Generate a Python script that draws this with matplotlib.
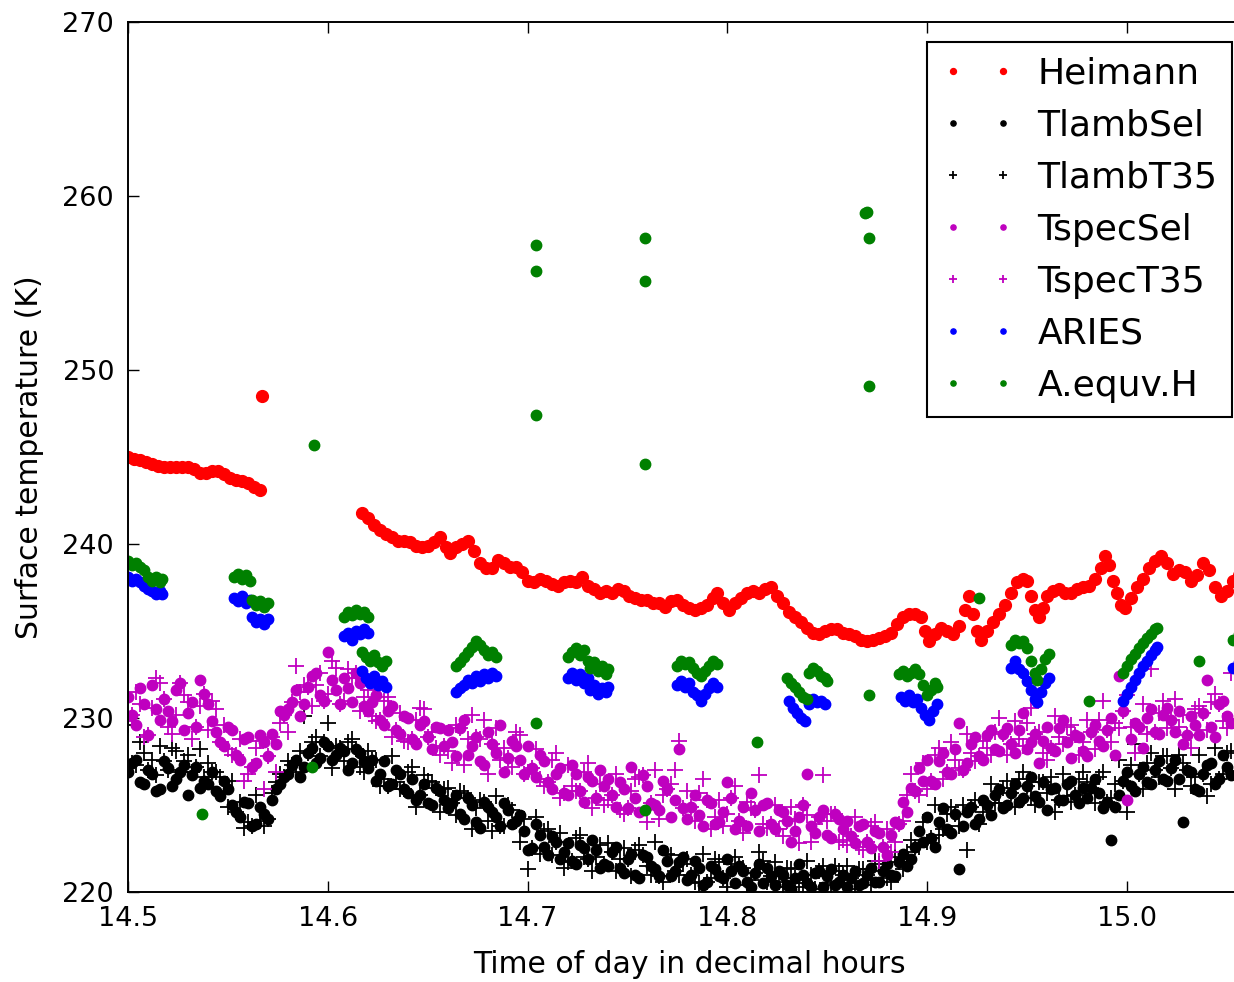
import matplotlib
matplotlib.use('Agg')
import matplotlib.pyplot as plt

# Heimann radiometer (continuous record, with one stray point)
heim_t = [14.500, 14.503, 14.506, 14.509, 14.512, 14.515, 14.518, 14.521, 14.524, 14.527,
          14.530, 14.533, 14.536, 14.539, 14.542, 14.545, 14.548, 14.551, 14.554, 14.557,
          14.560, 14.563, 14.566, 14.567,
          14.617, 14.620, 14.623, 14.626, 14.629, 14.632, 14.635, 14.638, 14.641, 14.644,
          14.647, 14.650, 14.653, 14.656, 14.659, 14.661, 14.664, 14.667, 14.670, 14.673,
          14.676, 14.679, 14.682, 14.685, 14.688, 14.691, 14.694, 14.697, 14.700, 14.703,
          14.706, 14.709, 14.712, 14.715, 14.718, 14.721, 14.724, 14.727, 14.730, 14.733,
          14.736, 14.739, 14.742, 14.745, 14.748, 14.751, 14.754, 14.757, 14.760, 14.763,
          14.766, 14.769, 14.772, 14.775, 14.778, 14.781, 14.784, 14.787, 14.790, 14.793,
          14.795, 14.798, 14.801, 14.804, 14.807, 14.810, 14.813, 14.816, 14.819, 14.822,
          14.825, 14.828, 14.831, 14.834, 14.837, 14.840, 14.843, 14.846, 14.849, 14.852,
          14.855, 14.858, 14.861, 14.864, 14.867, 14.870, 14.873, 14.876, 14.879, 14.882,
          14.885, 14.888, 14.891, 14.894, 14.897, 14.899, 14.901, 14.904, 14.907, 14.910,
          14.913, 14.916, 14.919, 14.921, 14.923, 14.925, 14.927, 14.930, 14.933, 14.936,
          14.939, 14.942, 14.945, 14.948, 14.950, 14.952, 14.954, 14.956, 14.958, 14.960,
          14.963, 14.966, 14.969, 14.972, 14.975, 14.978, 14.981, 14.984, 14.987, 14.989,
          14.991, 14.993, 14.995, 14.997, 14.999, 15.002, 15.005, 15.008, 15.011, 15.014,
          15.017, 15.020, 15.023, 15.026, 15.029, 15.032, 15.035, 15.038, 15.041, 15.044,
          15.047, 15.050, 15.053, 15.056]
heim_T = [245.0, 244.9, 244.8, 244.7, 244.6, 244.5, 244.4, 244.4, 244.4, 244.4,
          244.4, 244.3, 244.1, 244.1, 244.2, 244.2, 244.0, 243.8, 243.7, 243.6,
          243.5, 243.3, 243.1, 248.5,
          241.8, 241.5, 241.1, 240.8, 240.6, 240.4, 240.2, 240.2, 240.1, 239.9,
          239.8, 239.9, 240.1, 240.4, 239.8, 239.5, 239.8, 240.0, 240.2, 239.6,
          238.9, 238.6, 238.6, 239.1, 238.9, 238.7, 238.7, 238.4, 237.9, 237.8,
          238.0, 237.9, 237.7, 237.6, 237.8, 237.9, 237.8, 238.1, 237.6, 237.4,
          237.2, 237.3, 237.2, 237.4, 237.3, 237.0, 236.9, 236.8, 236.8, 236.6,
          236.6, 236.4, 236.7, 236.8, 236.5, 236.3, 236.2, 236.3, 236.5, 236.9,
          237.2, 236.6, 236.2, 236.6, 236.9, 237.2, 237.3, 237.2, 237.4, 237.5,
          237.0, 236.6, 236.1, 235.8, 235.5, 235.2, 234.9, 234.8, 235.0, 235.1,
          235.1, 234.9, 234.8, 234.7, 234.5, 234.4, 234.5, 234.6, 234.7, 234.9,
          235.4, 235.8, 236.0, 236.0, 235.8, 235.0, 234.4, 234.8, 235.2, 235.0,
          234.8, 235.3, 236.2, 237.0, 236.0, 235.0, 234.5, 235.0, 235.5, 236.0,
          236.5, 237.2, 237.8, 238.0, 237.9, 237.0, 236.2, 235.8, 236.3, 237.0,
          237.3, 237.4, 237.2, 237.2, 237.4, 237.5, 237.6, 238.0, 238.6, 239.3,
          238.8, 237.9, 237.2, 236.5, 236.3, 236.9, 237.5, 238.0, 238.6, 239.0,
          239.3, 238.9, 238.3, 238.5, 238.4, 237.9, 238.2, 238.9, 238.5, 237.5,
          237.0, 237.3, 237.9, 238.2]

# sample times for the four Tlamb/Tspec retrievals (two interleaved scan sets)
obs_t = [14.500, 14.504, 14.508, 14.512, 14.516, 14.520, 14.524, 14.528, 14.532, 14.536,
         14.540, 14.544, 14.548, 14.552, 14.556, 14.560, 14.564, 14.568, 14.572, 14.576,
         14.580, 14.584, 14.588, 14.592, 14.596, 14.600, 14.604, 14.608, 14.612, 14.616,
         14.620, 14.624, 14.628, 14.632, 14.636, 14.640, 14.644, 14.648, 14.652, 14.656,
         14.660, 14.664, 14.668, 14.672, 14.676, 14.680, 14.684, 14.688, 14.692, 14.696,
         14.700, 14.704, 14.708, 14.712, 14.716, 14.720, 14.724, 14.728, 14.732, 14.736,
         14.740, 14.744, 14.748, 14.752, 14.756, 14.760, 14.764, 14.768, 14.772, 14.776,
         14.780, 14.784, 14.788, 14.792, 14.796, 14.800, 14.804, 14.808, 14.812, 14.816,
         14.820, 14.824, 14.828, 14.832, 14.836, 14.840, 14.844, 14.848, 14.852, 14.856,
         14.860, 14.864, 14.868, 14.872, 14.876, 14.880, 14.884, 14.888, 14.892, 14.896,
         14.900, 14.904, 14.908, 14.912, 14.916, 14.920, 14.924, 14.928, 14.932, 14.936,
         14.940, 14.944, 14.948, 14.952, 14.956, 14.960, 14.964, 14.968, 14.972, 14.976,
         14.980, 14.984, 14.988, 14.992, 14.996, 15.000, 15.004, 15.008, 15.012, 15.016,
         15.020, 15.024, 15.028, 15.032, 15.036, 15.040, 15.044, 15.048, 15.052]
obs_t_b = [14.502, 14.506, 14.510, 14.514, 14.518, 14.522, 14.526, 14.530, 14.534, 14.538,
           14.542, 14.546, 14.550, 14.554, 14.558, 14.562, 14.566, 14.570, 14.574, 14.578,
           14.582, 14.586, 14.590, 14.594, 14.598, 14.602, 14.606, 14.610, 14.614, 14.618,
           14.622, 14.626, 14.630, 14.634, 14.638, 14.642, 14.646, 14.650, 14.654, 14.658,
           14.662, 14.666, 14.670, 14.674, 14.678, 14.682, 14.686, 14.690, 14.694, 14.698,
           14.702, 14.706, 14.710, 14.714, 14.718, 14.722, 14.726, 14.730, 14.734, 14.738,
           14.742, 14.746, 14.750, 14.754, 14.758, 14.762, 14.766, 14.770, 14.774, 14.778,
           14.782, 14.786, 14.790, 14.794, 14.798, 14.802, 14.806, 14.810, 14.814, 14.818,
           14.822, 14.826, 14.830, 14.834, 14.838, 14.842, 14.846, 14.850, 14.854, 14.858,
           14.862, 14.866, 14.870, 14.874, 14.878, 14.882, 14.886, 14.890, 14.894, 14.898,
           14.902, 14.906, 14.910, 14.914, 14.918, 14.922, 14.926, 14.930, 14.934, 14.938,
           14.942, 14.946, 14.950, 14.954, 14.958, 14.962, 14.966, 14.970, 14.974, 14.978,
           14.982, 14.986, 14.990, 14.994, 14.998, 15.002, 15.006, 15.010, 15.014, 15.018,
           15.022, 15.026, 15.030, 15.034, 15.038, 15.042, 15.046, 15.050]

tlamb_sel = [226.9, 227.6, 226.2, 226.8, 225.9, 227.1, 226.5, 227.3, 226.7, 226.0,
             226.2, 225.8, 226.4, 225.0, 224.3, 225.1, 223.9, 224.5, 225.3, 226.2,
             226.8, 227.6, 227.2, 228.3, 227.7, 228.4, 227.9, 228.1, 227.4, 228.0,
             227.1, 226.4, 227.5, 226.2, 226.8, 225.7, 225.3, 226.2, 225.0, 225.8,
             224.8, 225.6, 224.2, 225.0, 223.7, 224.9, 224.3, 225.1, 223.9, 224.4,
             222.4, 223.9, 222.6, 223.2, 221.9, 222.8, 221.6, 222.5, 223.0, 221.4,
             221.5, 222.6, 221.1, 222.2, 220.8, 222.0, 221.3, 222.4, 220.9, 221.7,
             220.7, 221.8, 220.4, 221.5, 220.9, 221.9, 220.5, 221.2, 220.3, 221.6,
             221.4, 220.4, 221.0, 220.2, 221.6, 220.5, 221.1, 220.3, 221.3, 220.6,
             220.3, 221.2, 220.5, 221.4, 220.6, 221.6, 220.9, 222.2, 221.9, 223.5,
             224.3, 222.6, 224.8, 223.4, 221.3, 224.6, 223.9, 225.3, 224.4, 225.9,
             225.0, 226.2, 225.4, 226.6, 225.2, 224.7, 226.0, 225.3, 226.4, 225.1,
             225.4, 226.5, 224.8, 223.0, 225.6, 226.9, 225.8, 227.2, 226.2, 227.5,
             226.4, 227.6, 224.0, 226.9, 225.8, 227.3, 226.2, 227.9, 226.7]
tlamb_sel_b = [227.4, 226.3, 227.0, 225.8, 227.5, 226.1, 226.9, 225.6, 227.2, 226.4,
               226.9, 225.5, 225.9, 224.6, 225.2, 223.8, 224.9, 224.2, 225.9, 226.6,
               227.3, 226.6, 228.0, 227.4, 228.6, 227.6, 228.3, 227.0, 228.2, 227.5,
               227.6, 226.8, 226.1, 227.0, 225.9, 226.5, 225.6, 225.1, 226.0, 225.3,
               225.1, 224.5, 225.4, 224.0, 225.2, 224.6, 223.8, 224.7, 224.1, 223.5,
               222.5, 223.3, 222.1, 222.9, 222.3, 221.8, 222.7, 221.9, 222.4, 221.6,
               222.3, 221.4, 221.9, 221.0, 222.1, 221.5, 220.9, 221.8, 221.2, 222.0,
               221.0, 221.4, 220.6, 221.3, 220.8, 221.2, 221.5, 220.6, 221.1, 220.5,
               220.9, 221.2, 220.4, 220.8, 221.0, 220.3, 221.2, 220.9, 220.4, 221.0,
               220.8, 220.4, 221.0, 220.6, 221.2, 221.0, 221.7, 221.5, 222.6, 222.9,
               223.1, 224.0, 223.6, 224.5, 223.8, 224.9, 224.2, 225.0, 225.6, 224.8,
               225.7, 225.2, 226.1, 225.5, 226.3, 225.9, 225.3, 226.2, 225.6, 226.0,
               226.0, 225.7, 225.2, 224.9, 226.4, 226.1, 226.8, 226.3, 227.0, 226.5,
               227.1, 226.5, 227.0, 225.9, 226.8, 227.4, 226.5, 227.2]
tlamb_t35 = [229.6, 227.3, 228.0, 227.6, 228.4, 227.0, 228.1, 227.5, 226.9, 228.2,
             227.4, 226.9, 225.8, 226.4, 225.2, 224.0, 225.6, 223.8, 225.7, 226.8,
             227.5, 226.9, 230.1, 228.6, 227.8, 229.7, 228.4, 227.5, 228.8, 227.2,
             228.1, 227.6, 226.5, 227.8, 225.9, 226.9, 224.9, 226.7, 226.3, 224.6,
             226.0, 224.4, 225.7, 223.6, 225.3, 224.1, 225.5, 223.8, 224.7, 222.9,
             221.3, 224.3, 223.5, 222.1, 223.4, 221.7, 223.1, 222.0, 221.2, 222.7,
             222.8, 221.2, 222.5, 220.9, 222.7, 221.5, 222.9, 220.6, 222.1, 221.0,
             221.9, 220.6, 222.2, 220.8, 221.7, 220.3, 222.0, 221.4, 220.7, 222.3,
             220.6, 221.7, 220.3, 221.3, 220.5, 221.8, 220.2, 221.5, 220.4, 221.2,
             221.5, 220.2, 221.3, 220.4, 221.6, 220.8, 222.0, 221.3, 223.0, 222.6,
             222.9, 225.0, 223.6, 224.9, 223.8, 222.4, 225.3, 224.6, 226.2, 225.1,
             226.4, 224.9, 226.9, 225.4, 226.3, 225.7, 224.6, 226.8, 225.2, 226.5,
             226.3, 225.1, 226.9, 225.4, 227.6, 224.6, 228.5, 225.9, 228.0, 226.6,
             227.8, 225.9, 227.4, 226.1, 227.9, 225.5, 228.3, 226.8, 228.1]
tlamb_t35_b = [227.4, 228.6, 227.0, 226.7, 227.5, 228.3, 226.9, 227.9, 227.2, 226.6,
               226.9, 226.6, 224.9, 224.6, 223.7, 223.8, 224.1, 224.2, 226.3, 226.6,
               227.3, 228.1, 228.0, 228.9, 228.6, 227.1, 228.3, 228.6, 228.2, 226.9,
               227.6, 226.1, 226.1, 226.3, 225.9, 227.2, 225.6, 226.4, 226.0, 225.9,
               225.1, 225.8, 225.4, 224.8, 225.2, 223.5, 223.8, 225.0, 224.1, 224.2,
               222.5, 222.2, 223.6, 222.9, 221.4, 221.8, 223.3, 221.9, 222.0, 221.6,
               222.3, 221.9, 221.9, 222.4, 222.1, 221.0, 220.9, 222.2, 221.2, 221.6,
               221.0, 220.5, 220.6, 221.9, 220.8, 221.6, 221.5, 220.4, 221.1, 221.8,
               220.9, 220.6, 221.4, 220.8, 220.3, 221.0, 221.2, 220.5, 221.5, 221.0,
               220.8, 221.3, 221.0, 221.8, 221.2, 220.6, 221.7, 222.3, 222.6, 224.0,
               223.1, 223.3, 224.5, 224.5, 225.0, 224.9, 223.9, 225.0, 225.1, 226.0,
               225.7, 226.5, 226.1, 225.0, 226.3, 226.6, 225.3, 225.5, 225.6, 226.9,
               226.0, 226.6, 225.2, 226.2, 226.4, 227.3, 226.8, 227.4, 227.0, 227.8,
               227.1, 227.9, 227.0, 226.6, 226.8, 226.2, 226.5, 228.0]
tspec_sel = [231.2, 229.6, 230.8, 231.9, 229.9, 230.4, 231.6, 229.3, 230.9, 232.2,
             230.8, 229.2, 228.4, 229.3, 227.6, 228.9, 227.4, 228.6, 229.1, 230.4,
             230.5, 231.6, 230.8, 232.4, 231.3, 233.8, 231.6, 232.3, 230.9, 232.0,
             230.4, 231.3, 229.6, 230.7, 229.1, 230.0, 228.5, 229.8, 228.2, 229.4,
             229.3, 227.8, 229.9, 228.4, 227.5, 229.2, 228.0, 226.9, 228.7, 227.6,
             228.4, 226.6, 227.5, 225.9, 227.1, 225.6, 226.8, 225.2, 226.4, 227.0,
             226.5, 224.9, 225.9, 227.2, 224.6, 226.1, 225.0, 226.4, 224.3, 228.2,
             224.2, 225.6, 223.8, 225.1, 224.0, 226.3, 223.6, 224.9, 225.7, 223.5,
             225.1, 223.6, 224.6, 222.9, 224.3, 226.8, 223.4, 224.7, 223.1, 224.2,
             224.1, 222.8, 223.9, 222.5, 223.4, 222.1, 224.0, 225.2, 226.0, 227.1,
             227.6, 226.2, 228.0, 226.8, 229.7, 227.4, 228.9, 227.6, 229.3, 228.1,
             229.4, 228.0, 230.3, 228.6, 227.4, 229.5, 228.1, 229.9, 227.7, 228.9,
             227.8, 229.6, 228.4, 230.0, 232.4, 225.3, 229.7, 228.3, 230.5, 229.1,
             230.6, 229.2, 228.5, 230.1, 229.0, 232.2, 228.9, 231.0, 229.7]
tspec_sel_b = [230.2, 231.7, 229.0, 230.5, 231.1, 229.8, 232.0, 230.3, 229.5, 231.4,
               229.8, 228.6, 229.5, 227.9, 228.8, 227.2, 229.0, 227.8, 228.5, 230.2,
               230.9, 230.1, 231.8, 232.6, 231.0, 232.2, 230.8, 231.7, 232.6, 230.7,
               230.9, 229.9, 230.4, 229.3, 230.1, 228.8, 229.6, 228.9, 229.5, 228.4,
               228.6, 229.4, 227.9, 228.9, 227.3, 228.5, 229.6, 227.7, 228.4, 226.8,
               227.1, 227.9, 226.3, 226.8, 225.7, 227.3, 225.8, 226.6, 225.4, 226.1,
               225.6, 226.3, 224.8, 225.4, 226.7, 225.1, 224.7, 225.9, 225.3, 224.8,
               224.9, 224.4, 225.3, 223.9, 224.6, 225.4, 224.1, 223.8, 224.7, 225.0,
               223.9, 224.7, 224.1, 223.5, 225.0, 223.8, 224.3, 223.3, 224.5, 223.6,
               223.2, 223.8, 222.9, 223.5, 222.6, 223.3, 223.9, 224.6, 225.8, 226.4,
               226.4, 227.5, 226.9, 228.2, 227.0, 228.5, 227.8, 229.0, 228.2, 229.1,
               228.5, 229.3, 228.2, 229.1, 228.7, 228.3, 229.4, 228.6, 229.0, 228.1,
               229.2, 228.7, 229.3, 227.9, 230.4, 228.8, 229.5, 230.0, 229.2, 230.2,
               229.9, 230.4, 229.0, 229.6, 230.3, 229.5, 230.8, 230.1]
tspec_t35 = [229.8, 231.5, 228.9, 230.6, 232.0, 229.5, 230.2, 231.3, 228.8, 230.7,
             229.3, 230.5, 229.6, 227.9, 228.8, 226.8, 228.3, 225.9, 228.9, 229.7,
             229.2, 233.0, 231.9, 230.7, 232.6, 231.4, 232.9, 231.0, 232.3, 230.4,
             231.6, 229.8, 231.0, 228.9, 230.3, 228.6, 229.9, 230.5, 229.2, 227.9,
             228.1, 229.6, 227.3, 230.2, 228.8, 226.8, 229.4, 228.3, 227.2, 229.0,
             226.9, 228.2, 226.1, 227.6, 225.4, 227.3, 225.8, 226.9, 224.8, 226.2,
             225.3, 226.8, 224.5, 225.8, 226.6, 224.0, 227.0, 225.6, 226.2, 228.7,
             225.8, 224.1, 226.5, 223.6, 225.3, 224.5, 226.1, 223.4, 224.8, 226.7,
             223.7, 225.0, 223.2, 224.9, 222.8, 224.4, 223.9, 226.7, 224.5, 222.9,
             222.7, 224.3, 222.4, 223.8, 221.8, 223.6, 222.9, 224.1, 226.8, 225.6,
             225.9, 227.9, 226.5, 228.6, 227.1, 229.1, 227.5, 228.7, 227.9, 230.0,
             227.9, 229.8, 228.4, 230.6, 229.2, 227.6, 230.1, 228.5, 229.6, 227.9,
             229.9, 228.2, 231.0, 228.6, 229.4, 231.3, 228.0, 230.8, 232.8, 230.3,
             229.4, 231.1, 230.2, 228.3, 230.7, 229.3, 231.4, 229.8, 232.6]
tspec_t35_b = [230.2, 230.8, 229.0, 232.3, 231.1, 229.1, 232.0, 230.9, 229.5, 231.4,
               231.0, 228.6, 228.2, 227.9, 226.4, 227.2, 228.7, 227.8, 226.9, 230.2,
               230.9, 231.5, 231.8, 231.9, 231.0, 233.3, 230.8, 232.8, 232.6, 231.2,
               230.1, 229.9, 231.2, 229.3, 228.7, 228.8, 230.6, 228.9, 228.3, 228.4,
               227.4, 229.4, 228.8, 228.9, 229.9, 228.5, 227.6, 227.7, 229.2, 226.8,
               227.1, 226.5, 226.3, 228.0, 225.7, 226.1, 225.8, 227.4, 225.4, 225.0,
               225.6, 224.7, 224.8, 226.5, 226.7, 225.1, 224.2, 225.9, 227.0, 224.8,
               224.9, 225.7, 225.3, 224.3, 223.8, 225.4, 224.1, 225.2, 224.7, 223.9,
               223.9, 223.6, 224.1, 224.2, 225.0, 222.9, 224.3, 224.1, 224.5, 223.0,
               223.2, 222.6, 222.9, 224.0, 222.6, 222.3, 223.9, 225.6, 225.8, 227.4,
               226.4, 228.3, 226.9, 227.6, 227.0, 228.0, 227.8, 228.3, 229.2, 229.1,
               228.5, 228.8, 229.7, 229.1, 228.0, 228.3, 228.9, 229.5, 229.0, 228.6,
               229.2, 229.9, 229.3, 229.7, 230.4, 229.5, 229.5, 229.1, 229.2, 231.0,
               229.9, 229.5, 229.0, 230.5, 230.3, 230.9, 230.8, 229.4]

# ARIES interferometer, in short bursts
aries_t = [14.500, 14.502, 14.504, 14.506, 14.508, 14.510, 14.512, 14.514, 14.516, 14.517,
           14.553, 14.555, 14.557, 14.559, 14.561, 14.562, 14.564, 14.566, 14.568, 14.570,
           14.608, 14.610, 14.612, 14.614, 14.616, 14.618, 14.620,
           14.617, 14.619, 14.621, 14.623, 14.625, 14.627, 14.629,
           14.664, 14.666, 14.668, 14.670, 14.672, 14.674, 14.676, 14.678, 14.680, 14.682, 14.684,
           14.720, 14.722, 14.724, 14.726, 14.728, 14.730, 14.731, 14.733, 14.735, 14.737, 14.739, 14.740,
           14.775, 14.777, 14.779, 14.781, 14.783, 14.785, 14.787, 14.789, 14.791, 14.793, 14.795,
           14.831, 14.833, 14.835, 14.837, 14.839, 14.841, 14.843, 14.845, 14.847, 14.849,
           14.887, 14.889, 14.891, 14.893, 14.895, 14.897, 14.899, 14.901, 14.903, 14.905,
           14.942, 14.944, 14.946, 14.948, 14.950, 14.952, 14.954, 14.955, 14.957, 14.959, 14.961,
           14.998, 15.000, 15.002, 15.004, 15.006, 15.008, 15.010, 15.012, 15.014, 15.015,
           15.053, 15.056]
aries_T = [238.1, 237.9, 238.0, 237.8, 237.6, 237.4, 237.3, 237.1, 237.3, 237.1,
           236.9, 236.7, 237.0, 236.6, 236.8, 235.8, 235.5, 235.7, 235.4, 235.7,
           234.7, 234.9, 234.5, 235.0, 234.8, 235.1, 234.9,
           232.7, 232.3, 232.0, 232.4, 231.9, 232.1, 231.8,
           231.5, 231.7, 231.9, 232.2, 232.0, 232.4, 232.1, 232.5, 232.3, 232.6, 232.4,
           232.3, 232.6, 232.2, 232.5, 232.0, 232.3, 231.6, 231.9, 231.4, 231.7, 231.5, 231.8,
           231.9, 232.1, 231.8, 232.0, 231.5, 231.3, 231.0, 231.4, 231.7, 232.0, 231.8,
           231.0, 230.6, 230.3, 230.0, 229.8, 230.8, 231.1, 230.9, 231.0, 230.8,
           231.2, 231.0, 231.3, 230.9, 231.1, 230.6, 230.2, 229.9, 230.4, 230.8,
           232.9, 233.3, 232.8, 232.6, 232.1, 231.6, 231.1, 230.9, 231.5, 232.0, 232.3,
           231.0, 231.4, 231.8, 232.2, 232.6, 233.0, 233.3, 233.6, 233.9, 234.1,
           232.9, 233.2]

# ARIES equivalent Heimann temperature (bursts plus scattered points)
aequv_t = [14.500, 14.502, 14.504, 14.506, 14.508, 14.510, 14.512, 14.514, 14.516, 14.517,
           14.553, 14.555, 14.557, 14.559, 14.561, 14.562, 14.564, 14.566, 14.568, 14.570,
           14.608, 14.610, 14.612, 14.614, 14.616, 14.618, 14.620,
           14.617, 14.619, 14.621, 14.623, 14.625, 14.627, 14.629,
           14.664, 14.666, 14.668, 14.670, 14.672, 14.674, 14.676, 14.678, 14.680, 14.682, 14.684,
           14.720, 14.722, 14.724, 14.726, 14.728, 14.730, 14.731, 14.733, 14.735, 14.737, 14.739, 14.740,
           14.775, 14.777, 14.779, 14.781, 14.783, 14.785, 14.787, 14.789, 14.791, 14.793, 14.795,
           14.830, 14.832, 14.834, 14.836, 14.838, 14.840, 14.841, 14.843, 14.845, 14.847, 14.849, 14.850,
           14.886, 14.888, 14.890, 14.892, 14.894, 14.896, 14.898, 14.900, 14.902, 14.904, 14.905,
           14.942, 14.944, 14.946, 14.948, 14.950, 14.952, 14.954, 14.955, 14.957, 14.959, 14.961,
           14.998, 15.000, 15.002, 15.004, 15.006, 15.008, 15.010, 15.012, 15.014, 15.015,
           15.053, 15.056,
           14.537, 14.592, 14.593, 14.704, 14.704, 14.704, 14.704, 14.759, 14.759, 14.759,
           14.759, 14.815, 14.870, 14.869, 14.871, 14.871, 14.871, 14.926, 14.981, 15.036]
aequv_T = [239.0, 238.8, 238.9, 238.7, 238.5, 238.1, 237.9, 238.1, 237.8, 238.0,
           238.1, 238.3, 238.0, 238.2, 237.9, 236.8, 236.5, 236.7, 236.4, 236.6,
           235.8, 236.1, 235.9, 236.2, 236.0, 236.1, 235.8,
           233.8, 233.5, 233.3, 233.6, 233.2, 233.0, 233.3,
           233.0, 233.2, 233.5, 233.8, 234.1, 234.4, 234.2, 233.9, 233.6, 233.8, 233.5,
           233.5, 233.8, 234.0, 233.6, 233.9, 233.3, 232.9, 233.2, 232.7, 233.0, 232.5, 232.8,
           233.0, 233.3, 233.1, 233.2, 232.9, 232.6, 232.4, 232.7, 233.0, 233.3, 233.1,
           232.3, 232.0, 231.8, 231.5, 231.2, 231.1, 232.6, 232.9, 232.7, 232.4, 232.3, 232.1,
           232.5, 232.7, 232.4, 232.6, 232.8, 232.5, 231.9, 231.3, 231.6, 232.0, 231.8,
           234.2, 234.5, 234.3, 234.4, 234.0, 233.3, 232.6, 232.2, 232.8, 233.4, 233.7,
           232.6, 233.0, 233.4, 233.7, 234.0, 234.3, 234.6, 234.8, 235.1, 235.2,
           234.5, 234.8,
           224.5, 227.2, 245.7, 257.2, 255.7, 247.4, 229.7, 257.6, 255.1, 244.6,
           224.7, 228.6, 259.1, 259.0, 257.6, 249.1, 231.3, 236.9, 231.0, 233.3]

green = (0, 0.5, 0)
magenta = (0.75, 0, 0.75)
ms_dot = 7.5
ms_plus = 11

fig = plt.figure(figsize=(12.34, 9.82), dpi=100)
# right spine sits just outside the saved image, as in the original
ax = fig.add_axes([128 / 1234, 90 / 982, 1122 / 1234, 870 / 982])

t_all = obs_t + obs_t_b
ax.plot(heim_t, heim_T, 'o', color='r', mec='r', ms=8.5, label='Heimann')
ax.plot(t_all, tlamb_sel + tlamb_sel_b, 'o', color='k', mec='k', ms=ms_dot, label='TlambSel')
ax.plot(t_all, tlamb_t35 + tlamb_t35_b, '+', color='k', ms=ms_plus, mew=1.3, label='TlambT35')
ax.plot(t_all, tspec_sel + tspec_sel_b, 'o', color=magenta, mec=magenta, ms=ms_dot,
        label='TspecSel')
ax.plot(t_all, tspec_t35 + tspec_t35_b, '+', color=magenta, ms=ms_plus, mew=1.3,
        label='TspecT35')
ax.plot(aries_t, aries_T, 'o', color='b', mec='b', ms=ms_dot, label='ARIES')
ax.plot(aequv_t, aequv_T, 'o', color=green, mec=green, ms=ms_dot, label='A.equv.H')

ax.set_xlim(14.5, 14.5 + 1122 / 1998)
ax.set_ylim(220, 270)
ax.set_xticks([14.5, 14.6, 14.7, 14.8, 14.9, 15.0])
ax.set_yticks([220, 230, 240, 250, 260, 270])
ax.tick_params(direction='in', length=8, width=1, top=True, right=True,
               labelsize=19.5, pad=10)
for s in ax.spines.values():
    s.set_linewidth(1.4)

ax.set_xlabel('Time of day in decimal hours', fontsize=21.5, labelpad=13)
ax.set_ylabel('Surface temperature (K)', fontsize=21.5, labelpad=13)

leg = ax.legend(loc='upper right', bbox_to_anchor=(1232 / 1234, 940 / 982),
                bbox_transform=fig.transFigure, borderaxespad=0,
                numpoints=2, markerscale=0.5, fontsize=26, fancybox=False,
                edgecolor='k', framealpha=1, labelspacing=0.5, handletextpad=0.65)
leg.get_frame().set_linewidth(1.5)

fig.savefig('out.png', dpi=100, facecolor='white')
